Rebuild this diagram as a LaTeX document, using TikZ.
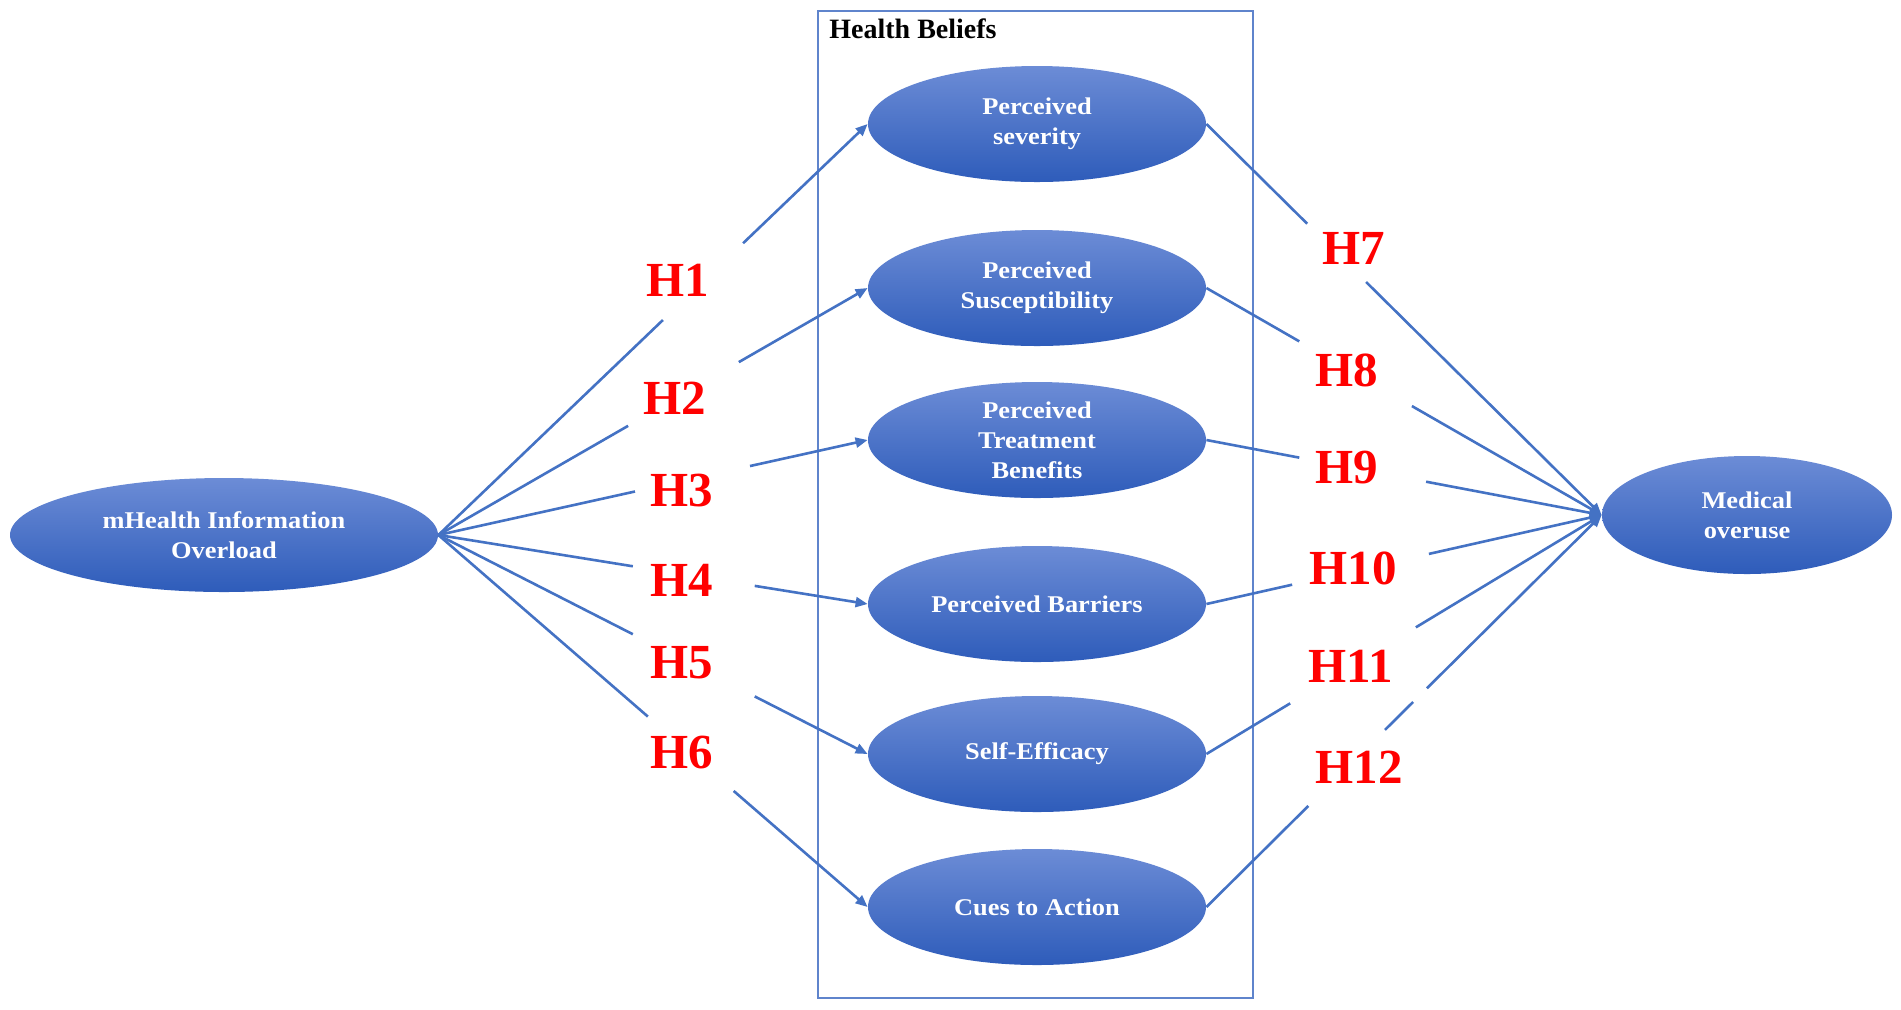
\documentclass[tikz,border=0pt]{standalone}
\usepackage{fontspec}
\setmainfont{Liberation Serif}
\newfontfamily\wideserif[FakeStretch=1.1]{Liberation Serif}
\usetikzlibrary{arrows.meta,shapes.geometric}
\definecolor{lineblue}{RGB}{68,114,196}
\definecolor{boxblue}{RGB}{95,132,204}
\definecolor{elltop}{RGB}{108,140,214}
\definecolor{ellbot}{RGB}{46,92,186}
\definecolor{hred}{RGB}{255,0,0}
\tikzset{
  ellnode/.style={ellipse, inner sep=0pt, top color=elltop, bottom color=ellbot,
    draw=none, text=white, align=center,
    font={\wideserif\bfseries\fontsize{12pt}{15pt}\selectfont}},
  smallell/.style={ellnode, minimum width=169pt, minimum height=58pt},
  hlabel/.style={inner sep=0pt, text=hred, font={\bfseries\fontsize{24.5pt}{26pt}\selectfont}},
  conn/.style={draw=lineblue, line width=1.3pt},
  arr/.style={conn, -{Triangle[length=6pt,width=5pt]}},
  beliefbox/.style={draw=boxblue, line width=0.9pt}
}
\begin{document}
\begin{tikzpicture}[x=0.5pt,y=-0.5pt]
\useasboundingbox (0,0) rectangle (1901,1009);
\fill[white] (0,0) rectangle (1901,1009);
% box
\node[beliefbox, minimum width=217.5pt, minimum height=493.5pt, inner sep=0pt] (box) at (1035.5,504.5) {};
\node[anchor=base west, inner sep=0pt, font={\bfseries\fontsize{14pt}{16pt}\selectfont}] (hb) at (829,38) {Health Beliefs};
% ellipses
\node[ellnode, minimum width=214pt, minimum height=57pt] (L) at (224,535) {mHealth Information\\Overload};
\node[smallell] (E1) at (1037,124) {Perceived\\severity};
\node[smallell] (E2) at (1037,288) {Perceived\\Susceptibility};
\node[smallell] (E3) at (1037,440) {Perceived\\Treatment\\Benefits};
\node[smallell] (E4) at (1037,604) {Perceived Barriers};
\node[smallell] (E5) at (1037,754) {Self-Efficacy};
\node[smallell] (E6) at (1037,907) {Cues to Action};
\node[ellnode, minimum width=145pt, minimum height=59pt] (M) at (1747,515) {Medical\\overuse};
% labels
\node[hlabel] (H1) at (678,280) {H1};
\node[hlabel] (H2) at (675,398) {H2};
\node[hlabel] (H3) at (682,491) {H3};
\node[hlabel] (H4) at (682,580) {H4};
\node[hlabel] (H5) at (682,663) {H5};
\node[hlabel] (H6) at (682,752) {H6};
\node[hlabel] (H7) at (1354,248) {H7};
\node[hlabel] (H8) at (1347,370) {H8};
\node[hlabel] (H9) at (1347,468) {H9};
\node[hlabel] (H10) at (1353,568) {H10};
\node[hlabel] (H11) at (1351,666) {H11};
\node[hlabel] (H12) at (1359,767) {H12};
% left connectors
\foreach \i/\p/\q in {1/0.523/0.710, 2/0.442/0.700, 3/0.458/0.726, 4/0.453/0.737, 5/0.453/0.737, 6/0.488/0.688}{
  \path (L.east) -- (E\i.west) coordinate[pos=\p] (la\i) coordinate[pos=\q] (lb\i);
  \draw[conn] (L.east) -- (la\i);
  \draw[arr] (lb\i) -- (E\i.west);
}
% right connectors
\foreach \i/\p/\q in {1/0.255/0.404, 2/0.235/0.520, 3/0.235/0.556, 4/0.217/0.563, 5/0.212/0.530}{
  \path (E\i.east) -- (M.west) coordinate[pos=\p] (ra\i) coordinate[pos=\q] (rb\i);
  \draw[conn] (E\i.east) -- (ra\i);
  \draw[arr] (rb\i) -- (M.west);
}
\path (E6.east) -- (M.west) coordinate[pos=0.258] (ra6) coordinate[pos=0.452] (rb6)
  coordinate[pos=0.523] (rc6) coordinate[pos=0.558] (rd6);
\draw[conn] (E6.east) -- (ra6);
\draw[conn] (rb6) -- (rc6);
\draw[arr] (rd6) -- (M.west);
\end{tikzpicture}
\end{document}
